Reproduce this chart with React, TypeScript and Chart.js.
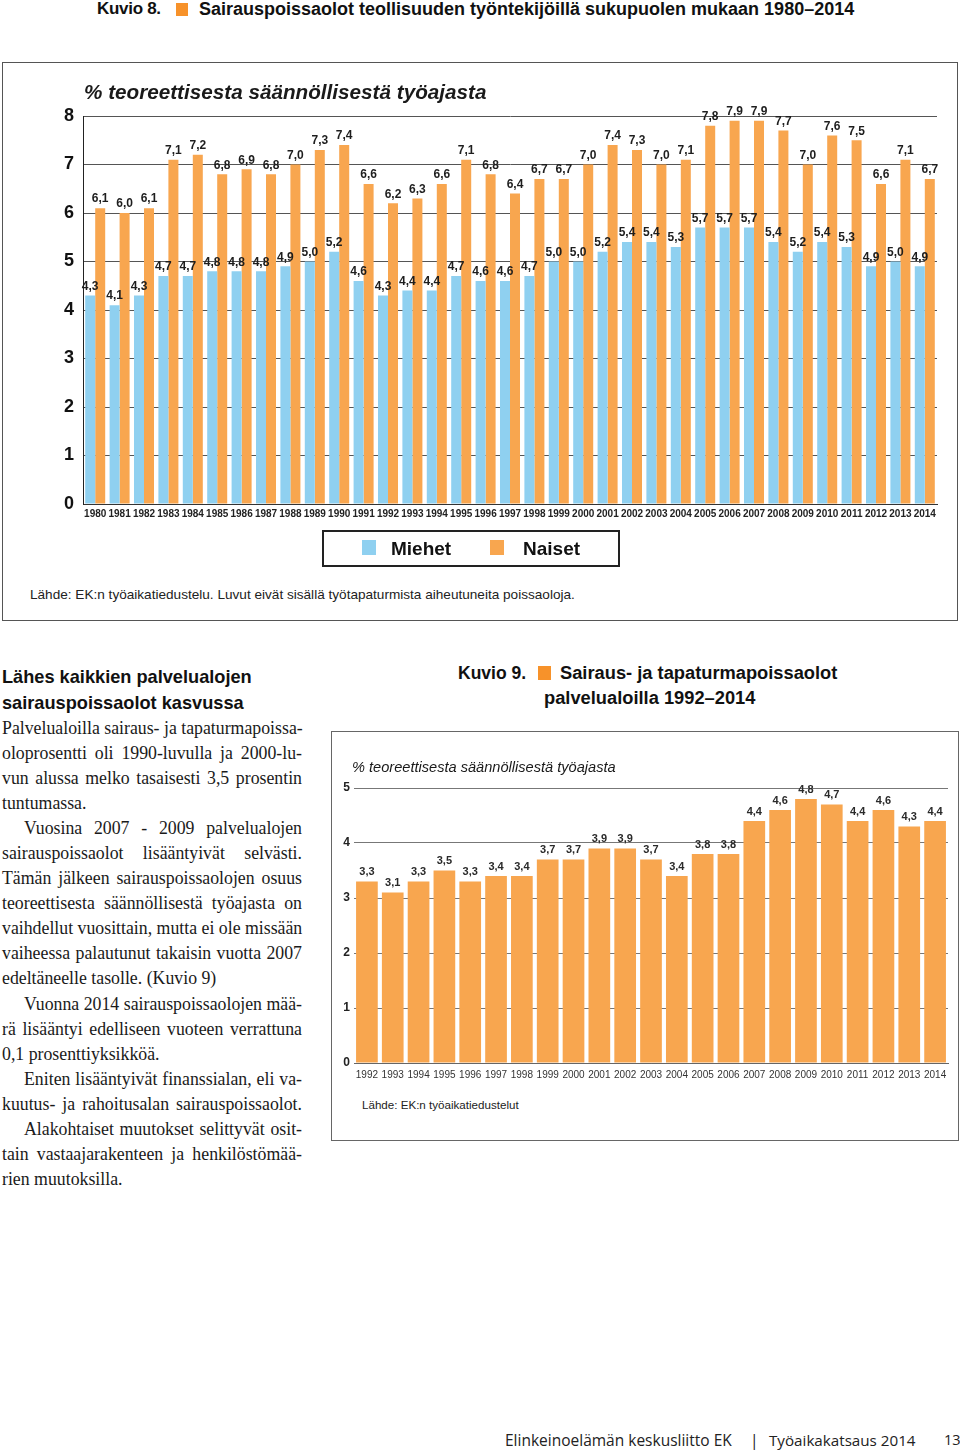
import React, { useEffect, useRef } from "react";
import { Chart, registerables } from "chart.js";
Chart.register(...registerables);

// ---------- DATA ----------
const years1 = ["1980","1981","1982","1983","1984","1985","1986","1987","1988","1989","1990","1991","1992","1993","1994","1995","1996","1997","1998","1999","2000","2001","2002","2003","2004","2005","2006","2007","2008","2009","2010","2011","2012","2013","2014"];
const menValues = [4.3,4.1,4.3,4.7,4.7,4.8,4.8,4.8,4.9,5.0,5.2,4.6,4.3,4.4,4.4,4.7,4.6,4.6,4.7,5.0,5.0,5.2,5.4,5.4,5.3,5.7,5.7,5.7,5.4,5.2,5.4,5.3,4.9,5.0,4.9];
const womenValues = [6.1,6.0,6.1,7.1,7.2,6.8,6.9,6.8,7.0,7.3,7.4,6.6,6.2,6.3,6.6,7.1,6.8,6.4,6.7,6.7,7.0,7.4,7.3,7.0,7.1,7.8,7.9,7.9,7.7,7.0,7.6,7.5,6.6,7.1,6.7];
const seriesNames1 = ["Miehet", "Naiset"];
const yMax1 = 8;

const years2 = ["1992","1993","1994","1995","1996","1997","1998","1999","2000","2001","2002","2003","2004","2005","2006","2007","2008","2009","2010","2011","2012","2013","2014"];
const serviceValues = [3.3,3.1,3.3,3.5,3.3,3.4,3.4,3.7,3.7,3.9,3.9,3.7,3.4,3.8,3.8,4.4,4.6,4.8,4.7,4.4,4.6,4.3,4.4];
const yMax2 = 5;

const unitTitle = "% teoreettisesta säännöllisestä työajasta";

// ---------- STYLE ----------
const SANS = "'Liberation Sans', Arial, Helvetica, sans-serif";
const NARROW = "'Liberation Sans Narrow', 'Arial Narrow', 'Liberation Sans', sans-serif";
const SERIF = "'Liberation Serif', 'Times New Roman', serif";
const BLUE = "#8fd0f0";
const ORANGE = "#f8a64f";
const SQUARE_ORANGE = "#f7922a";

const fmt = (v: number) => v.toFixed(1).replace(".", ",");

const valueLabels = {
  id: "valueLabels",
  afterDatasetsDraw(chart: any, _args: any, opts: any) {
    const ctx = chart.ctx;
    ctx.save();
    ctx.font = opts.fontStr;
    ctx.fillStyle = opts.color;
    ctx.textAlign = "center";
    ctx.textBaseline = "bottom";
    chart.data.datasets.forEach((ds: any, i: number) => {
      const meta = chart.getDatasetMeta(i);
      meta.data.forEach((bar: any, j: number) => {
        ctx.fillText(fmt(ds.data[j]), bar.x, bar.y - opts.offset);
      });
    });
    ctx.restore();
  },
};

const unitText = {
  id: "unitText",
  afterDraw(chart: any, _args: any, opts: any) {
    if (!opts || !opts.text) return;
    const ctx = chart.ctx;
    ctx.save();
    ctx.font = opts.fontStr;
    ctx.fillStyle = opts.color;
    ctx.textAlign = "left";
    ctx.textBaseline = "middle";
    ctx.fillText(opts.text, opts.x, opts.y);
    ctx.restore();
  },
};

const bodyLines: [string, boolean, boolean][] = [
  ["Palvelualoilla sairaus- ja tapaturmapoissa-", true, false],
  ["oloprosentti oli 1990-luvulla ja 2000-lu-", true, false],
  ["vun alussa melko tasaisesti 3,5 prosentin", true, false],
  ["tuntumassa.", false, false],
  ["Vuosina 2007 - 2009 palvelualojen", true, true],
  ["sairauspoissaolot lisääntyivät selvästi.", true, false],
  ["Tämän jälkeen sairauspoissaolojen osuus", true, false],
  ["teoreettisesta säännöllisestä työajasta on", true, false],
  ["vaihdellut vuosittain, mutta ei ole missään", true, false],
  ["vaiheessa palautunut takaisin vuotta 2007", true, false],
  ["edeltäneelle tasolle.  (Kuvio 9)", false, false],
  ["Vuonna 2014 sairauspoissaolojen mää-", true, true],
  ["rä lisääntyi edelliseen vuoteen verrattuna", true, false],
  ["0,1 prosenttiyksikköä.", false, false],
  ["Eniten lisääntyivät finanssialan, eli va-", true, true],
  ["kuutus- ja rahoitusalan sairauspoissaolot.", true, false],
  ["Alakohtaiset muutokset selittyvät osit-", true, true],
  ["tain vastaajarakenteen ja henkilöstömää-", true, false],
  ["rien muutoksilla.", false, false],
];

export default function App() {
  const ref1 = useRef<HTMLCanvasElement>(null);
  const ref2 = useRef<HTMLCanvasElement>(null);

  useEffect(() => {
    document.body.style.margin = "0";
    document.body.style.background = "#fff";
    const c1 = new Chart(ref1.current!, {
      type: "bar",
      data: {
        labels: years1,
        datasets: [
          { label: seriesNames1[0], data: menValues, backgroundColor: BLUE, categoryPercentage: 0.82, barPercentage: 1 },
          { label: seriesNames1[1], data: womenValues, backgroundColor: ORANGE, categoryPercentage: 0.82, barPercentage: 1 },
        ],
      },
      options: {
        animation: false,
        responsive: false,
        maintainAspectRatio: false,
        layout: { padding: { left: 0, top: 53, right: 20, bottom: 19 } },
        plugins: {
          legend: { display: false },
          tooltip: { enabled: false },
          title: { display: false },
          valueLabels: { fontStr: `bold 12px ${SANS}`, color: "#1e1e1e", offset: 3 },
          unitText: { text: unitTitle, fontStr: `italic bold 20.7px ${SANS}`, color: "#1a1a1a", x: 81, y: 30 },
        } as any,
        scales: {
          x: {
            grid: { display: false, drawTicks: false },
            border: { display: true, color: "#333", width: 1 },
            ticks: { font: { family: NARROW, size: 10, weight: "bold" }, color: "#222", padding: 4, autoSkip: false, maxRotation: 0 },
            afterFit: (s: any) => { s.height = 20; },
          },
          y: {
            min: 0,
            max: yMax1,
            ticks: { stepSize: 1, font: { family: SANS, size: 18, weight: "bold" }, color: "#111", padding: 9 },
            grid: { color: "#555", lineWidth: 1, drawTicks: false },
            border: { display: true, color: "#222", width: 1 },
            afterFit: (s: any) => { s.width = 80; },
          },
        },
      },
      plugins: [valueLabels, unitText],
    } as any);

    const c2 = new Chart(ref2.current!, {
      type: "bar",
      data: {
        labels: years2,
        datasets: [
          { label: "Palvelualat", data: serviceValues, backgroundColor: ORANGE, categoryPercentage: 1, barPercentage: 0.84 },
        ],
      },
      options: {
        animation: false,
        responsive: false,
        maintainAspectRatio: false,
        layout: { padding: { left: 0, top: 56, right: 9, bottom: 9 } },
        plugins: {
          legend: { display: false },
          tooltip: { enabled: false },
          valueLabels: { fontStr: `bold 11px ${SANS}`, color: "#2a2a2a", offset: 4 },
          unitText: { text: unitTitle, fontStr: `italic 14.6px ${SANS}`, color: "#1a1a1a", x: 20, y: 36 },
        } as any,
        scales: {
          x: {
            grid: { display: false, drawTicks: false },
            border: { display: true, color: "#666", width: 1 },
            ticks: { font: { family: SANS, size: 10 }, color: "#333", padding: 6, autoSkip: false, maxRotation: 0 },
            afterFit: (s: any) => { s.height = 20; },
          },
          y: {
            min: 0,
            max: yMax2,
            ticks: { stepSize: 1, font: { family: SANS, size: 12, weight: "bold" }, color: "#222", padding: 4 },
            grid: { color: "#777", lineWidth: 1, drawTicks: false },
            border: { display: false },
            afterFit: (s: any) => { s.width = 22; },
          },
        },
      },
      plugins: [valueLabels, unitText],
    } as any);

    return () => {
      c1.destroy();
      c2.destroy();
    };
  }, []);

  const abs = (o: any) => ({ position: "absolute" as const, ...o });

  return (
    <div style={{ position: "absolute", left: 0, top: 0, width: 960, height: 1450, background: "#fff", fontFamily: SANS, overflow: "hidden" }}>
      {/* Figure 8 title */}
      <div style={abs({ left: 97, top: -1, whiteSpace: "nowrap", fontSize: 17, fontWeight: "bold", color: "#111", letterSpacing: -0.3, lineHeight: "20px" })}>
        Kuvio 8.
      </div>
      <div style={abs({ left: 176, top: 3, width: 12, height: 13, background: SQUARE_ORANGE })} />
      <div style={abs({ left: 199, top: -1, whiteSpace: "nowrap", fontSize: 18, fontWeight: "bold", color: "#111", letterSpacing: 0, lineHeight: "20px" })}>
        Sairauspoissaolot teollisuuden työntekijöillä sukupuolen mukaan 1980–2014
      </div>

      {/* Figure 8 box */}
      <div style={abs({ left: 2, top: 62, width: 954, height: 557, border: "1.5px solid #555" })} />
      <canvas ref={ref1} width={954} height={480} style={abs({ left: 3, top: 63, width: 954, height: 480 })} />

      {/* Legend */}
      <div style={abs({ left: 322, top: 530, width: 294, height: 33, border: "2px solid #222" })} />
      <div style={abs({ left: 362, top: 540, width: 14, height: 15, background: BLUE })} />
      <div style={abs({ left: 391, top: 537, fontSize: 19, fontWeight: "bold", color: "#111", lineHeight: "24px" })}>{seriesNames1[0]}</div>
      <div style={abs({ left: 490, top: 540, width: 14, height: 15, background: ORANGE })} />
      <div style={abs({ left: 523, top: 537, fontSize: 19, fontWeight: "bold", color: "#111", lineHeight: "24px" })}>{seriesNames1[1]}</div>

      <div style={abs({ left: 30, top: 587, fontSize: 13.6, color: "#222", whiteSpace: "nowrap", lineHeight: "16px" })}>
        Lähde: EK:n työaikatiedustelu. Luvut eivät sisällä työtapaturmista aiheutuneita poissaoloja.
      </div>

      {/* Left text column */}
      <div style={abs({ left: 2, top: 664, fontSize: 18.2, fontWeight: "bold", color: "#111", lineHeight: "26px", whiteSpace: "nowrap" })}>
        <div>Lähes kaikkien palvelualojen</div>
        <div>sairauspoissaolot kasvussa</div>
      </div>
      <div style={abs({ left: 2, top: 715.5, width: 300, fontFamily: SERIF, fontSize: 17.8, color: "#1a1a1a", lineHeight: "25.1px", letterSpacing: 0 })}>
        {bodyLines.map(([t, j, ind], i) => (
          <div key={i} style={{ whiteSpace: "nowrap", height: 25.1, textAlign: j ? "justify" : "left", textAlignLast: j ? "justify" : "left", textIndent: ind ? 22 : 0 } as any}>
            {t}
          </div>
        ))}
      </div>

      {/* Figure 9 title */}
      <div style={abs({ left: 458, top: 663, fontSize: 17.5, fontWeight: "bold", color: "#111", whiteSpace: "nowrap", lineHeight: "20px" })}>Kuvio 9.</div>
      <div style={abs({ left: 538, top: 666, width: 13, height: 14, background: SQUARE_ORANGE })} />
      <div style={abs({ left: 560, top: 663, fontSize: 18.3, fontWeight: "bold", color: "#111", whiteSpace: "nowrap", lineHeight: "20px" })}>Sairaus- ja tapaturmapoissaolot</div>
      <div style={abs({ left: 544, top: 688, fontSize: 18.3, fontWeight: "bold", color: "#111", whiteSpace: "nowrap", lineHeight: "20px" })}>palvelualoilla 1992–2014</div>

      {/* Figure 9 box */}
      <div style={abs({ left: 331, top: 731, width: 626, height: 408, border: "1px solid #666" })} />
      <canvas ref={ref2} width={625} height={360} style={abs({ left: 332, top: 732, width: 625, height: 360 })} />
      <div style={abs({ left: 362, top: 1097, fontSize: 11.6, color: "#222", whiteSpace: "nowrap", lineHeight: "15px" })}>Lähde: EK:n työaikatiedustelut</div>

      {/* Footer */}
      <div style={abs({ left: 505, top: 1430, fontFamily: "'Open Sans', sans-serif", fontSize: 15.5, color: "#222", whiteSpace: "nowrap", lineHeight: "20px" })}>
        Elinkeinoelämän keskusliitto EK
      </div>
      <div style={abs({ left: 750, top: 1430, fontFamily: "'Open Sans', sans-serif", fontSize: 15.5, color: "#222", lineHeight: "20px" })}>|</div>
      <div style={abs({ left: 769, top: 1430, fontFamily: "'Open Sans', sans-serif", fontSize: 15.2, color: "#222", whiteSpace: "nowrap", lineHeight: "20px" })}>
        Työaikakatsaus 2014
      </div>
      <div style={abs({ left: 944, top: 1430, fontFamily: "'Open Sans', sans-serif", fontSize: 14.5, color: "#222", lineHeight: "20px" })}>13</div>
    </div>
  );
}
